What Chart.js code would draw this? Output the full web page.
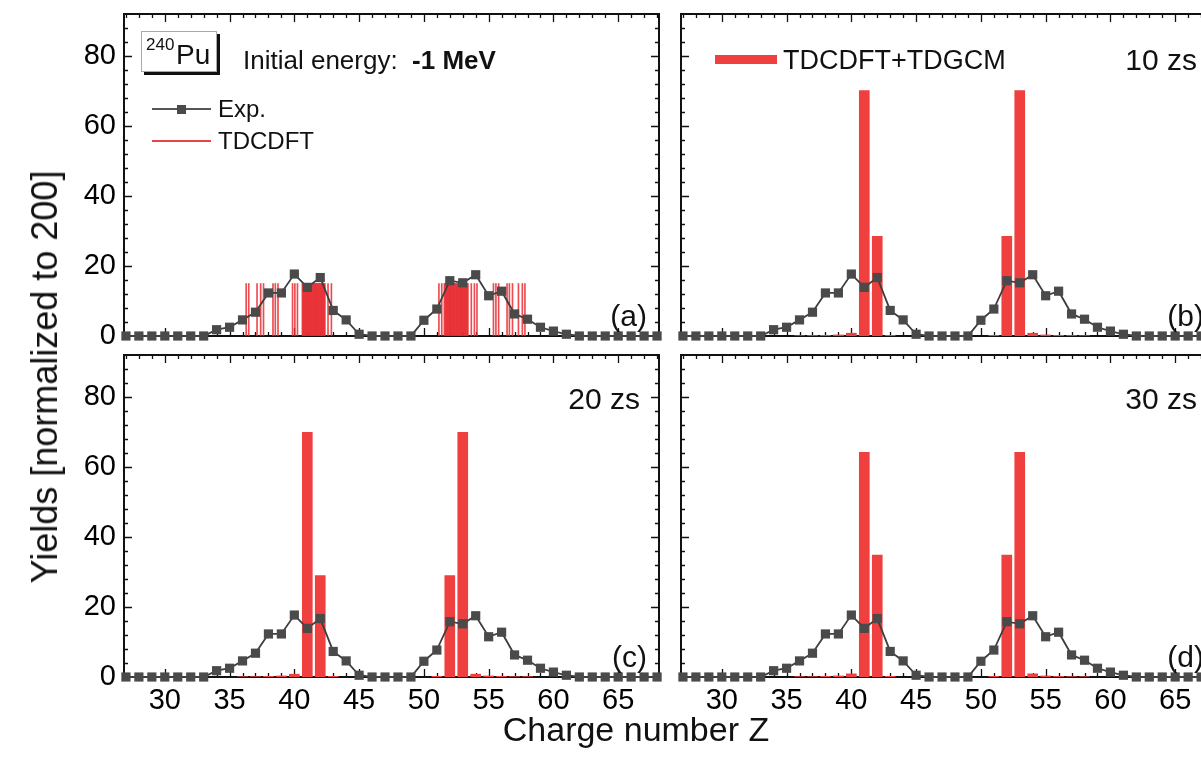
<!DOCTYPE html>
<html><head><meta charset="utf-8">
<script src="https://cdn.jsdelivr.net/npm/chart.js@4.4.0/dist/chart.umd.min.js"></script>
<style>
html,body{margin:0;padding:0;background:#fff;width:1201px;height:772px;overflow:hidden;}
body{position:relative;font-family:"Liberation Sans",Arial,sans-serif;color:#111;}
canvas{position:absolute;}
.t{position:absolute;white-space:nowrap;line-height:1;}
</style></head><body>
<canvas id="pa" width="680" height="346" style="left:0;top:0"></canvas>
<canvas id="pb" width="600" height="346" style="left:661px;top:0"></canvas>
<canvas id="pc" width="680" height="431" style="left:0;top:341px"></canvas>
<canvas id="pd" width="600" height="431" style="left:661px;top:341px"></canvas>

<div class="t" style="left:45px;top:377px;font-size:36px;transform:translate(-50%,-50%) rotate(-90deg);">Yields [normalized to 200]</div>
<div class="t" style="left:636px;top:729px;font-size:34px;transform:translate(-50%,-50%);">Charge number Z</div>

<div style="position:absolute;left:141px;top:31px;width:74px;height:39px;border:1px solid #aaa;background:#fff;box-shadow:3px 3px 0 #111;"></div>
<div class="t" style="left:146px;top:36px;font-size:17px;">240</div>
<div class="t" style="left:176px;top:41px;font-size:28px;">Pu</div>
<div class="t" style="left:243px;top:60px;font-size:26px;transform:translateY(-50%);">Initial energy: &nbsp;<b>-1 MeV</b></div>

<div style="position:absolute;left:152px;top:108px;width:59px;height:2px;background:#555;"></div>
<div style="position:absolute;left:177px;top:105px;width:9px;height:9px;background:#4a4a4a;"></div>
<div class="t" style="left:218px;top:109px;font-size:24px;transform:translateY(-50%);">Exp.</div>
<div style="position:absolute;left:152px;top:140px;width:59px;height:2px;background:#e8444a;"></div>
<div class="t" style="left:218px;top:141px;font-size:24px;transform:translateY(-50%);">TDCDFT</div>

<div style="position:absolute;left:715px;top:55px;width:62px;height:9px;background:#ef3f3f;"></div>
<div class="t" style="left:783px;top:60px;font-size:27px;transform:translateY(-50%);">TDCDFT+TDGCM</div>

<div class="t" style="left:1197px;top:60px;font-size:30px;transform:translate(-100%,-50%);">10 zs</div>
<div class="t" style="left:640px;top:399px;font-size:30px;transform:translate(-100%,-50%);">20 zs</div>
<div class="t" style="left:1197px;top:399px;font-size:30px;transform:translate(-100%,-50%);">30 zs</div>
<div class="t" style="left:647px;top:316px;font-size:30px;transform:translate(-100%,-50%);">(a)</div>
<div class="t" style="left:1204px;top:316px;font-size:30px;transform:translate(-100%,-50%);">(b)</div>
<div class="t" style="left:647px;top:657px;font-size:30px;transform:translate(-100%,-50%);">(c)</div>
<div class="t" style="left:1204px;top:657px;font-size:30px;transform:translate(-100%,-50%);">(d)</div>

<script>
// ---------- data ----------
const chargeZ = [27,28,29,30,31,32,33,34,35,36,37,38,39,40,41,42,43,44,45,46,47,48,49,50,51,52,53,54,55,56,57,58,59,60,61,62,63,64,65,66,67,68];
const expYield = [0,0,0,0,0,0,0, 1.8,2.5,4.6,6.8,12.3,12.3,17.7,13.9,16.7,7.3,4.6,0.5, 0,0,0,0, 4.5,7.7,15.8,15.2,17.5,11.5,12.8,6.3,4.8,2.5,1.4,0.5, 0,0,0,0,0,0,0];

const tdcdftZ = [36.28,36.48,37.12,37.40,37.62,38.35,38.53,38.74,39.86,40.04,40.24,
  40.62,40.68,40.74,40.80,40.86,40.92,40.98,41.04,41.10,41.16,41.22,41.28,41.34,41.40,41.46,
  41.52,41.58,41.64,41.70,41.76,41.82,41.88,41.94,42.00,42.06,42.12,42.18,42.24,42.30,42.36,
  42.60,42.86,
  51.16,51.38,51.58,
  51.66,51.72,51.78,51.84,51.90,51.96,52.02,52.08,52.14,52.20,52.26,52.32,52.38,52.44,52.50,
  52.56,52.62,52.68,52.74,52.80,52.86,52.92,52.98,53.04,53.10,53.16,53.22,53.28,53.34,53.40,
  53.66,53.90,54.10,55.37,55.56,55.77,56.42,56.60,56.84,57.30,57.60,57.80];
const tdcdftYield = [15,15,15,15,15,15,15,15,15,15,15,
  15,15,15,15,15,15,15,15,15,15,15,15,15,15,15,
  15,15,15,15,15,15,15,15,15,15,15,15,15,15,15,
  15,15,
  15,15,15,
  15,15,15,15,15,15,15,15,15,15,15,15,15,15,15,
  15,15,15,15,15,15,15,15,15,15,15,15,15,15,15,
  15,15,15,15,15,15,15,15,15,15,15,15];

const gcmZ   = [36,37,38,39,40,41,42,43,51,52,53,54,55,56,57,58];
const gcm10  = [0.1,0.15,0.2,0.3,0.8,70.1,28.5,0.2, 0.2,28.5,70.1,0.8,0.3,0.2,0.15,0.1];
const gcm20  = [0.1,0.1,0.2,0.3,0.8,69.9,29.0,0.2, 0.2,29.0,69.9,0.8,0.3,0.2,0.1,0.1];
const gcm30  = [0.1,0.1,0.2,0.3,0.9,64.2,34.8,0.2, 0.2,34.8,64.2,0.9,0.3,0.2,0.1,0.1];

const xTickLabels = [30,35,40,45,50,55,60,65];
const yTickLabels = [0,20,40,60,80];

// ---------- drawing ----------
const FONT = '"Liberation Sans", Arial, sans-serif';
const X_MIN = 26.85, X_MAX = 68.15, Y_MIN = 0, Y_MAX = 92;

const framePlugin = {
  id: 'frame',
  beforeDatasetsDraw(chart) {
    const {ctx, chartArea: a, scales: {x, y}} = chart;
    ctx.save();
    ctx.strokeStyle = '#111';
    ctx.lineWidth = 1.3;
    ctx.beginPath();
    for (let v = Math.ceil(X_MIN); v <= Math.floor(X_MAX); v++) {
      const px = Math.round(x.getPixelForValue(v)) + 0.5;
      const len = (v % 5 === 0) ? 8 : 4;
      ctx.moveTo(px, a.bottom); ctx.lineTo(px, a.bottom - len);
      ctx.moveTo(px, a.top); ctx.lineTo(px, a.top + len);
    }
    for (let v = 4; v < Y_MAX; v += 4) {
      const py = Math.round(y.getPixelForValue(v)) + 0.5;
      const len = (v % 20 === 0) ? 8 : 4;
      ctx.moveTo(a.left, py); ctx.lineTo(a.left + len, py);
      ctx.moveTo(a.right, py); ctx.lineTo(a.right - len, py);
    }
    ctx.stroke();
    ctx.lineWidth = 2;
    ctx.strokeRect(a.left, a.top, a.right - a.left, a.bottom - a.top);
    ctx.restore();
  }
};

function pairs(xs, ys) { return xs.map((v, i) => ({x: v, y: ys[i]})); }
function noPad(s) { s.paddingTop = 0; s.paddingBottom = 0; s.paddingLeft = 0; s.paddingRight = 0; }

function makePanel(id, cfg) {
  const datasets = [];
  datasets.push({
    type: 'line', label: 'Exp.', data: pairs(chargeZ, expYield), order: 0,
    borderColor: '#3d3d3d', borderWidth: 1.8, backgroundColor: '#4a4a4a',
    pointStyle: 'rect', pointRadius: 6.5, pointBorderWidth: 0, pointBackgroundColor: '#4a4a4a',
    clip: false, tension: 0
  });
  if (cfg.lines) {
    datasets.push({
      type: 'bar', label: 'TDCDFT', data: pairs(tdcdftZ, tdcdftYield), order: 1,
      backgroundColor: 'rgba(232,45,50,0.85)', barThickness: 1, borderWidth: 0
    });
  }
  if (cfg.bars) {
    datasets.push({
      type: 'bar', label: 'TDCDFT+TDGCM', data: pairs(gcmZ, cfg.bars), order: 1,
      backgroundColor: '#ef3f3f', barThickness: 10, borderWidth: 0
    });
  }
  new Chart(document.getElementById(id), {
    type: 'bar',
    data: {datasets},
    plugins: [framePlugin],
    options: {
      responsive: false, animation: false, devicePixelRatio: 1,
      layout: {padding: cfg.padding, autoPadding: false},
      plugins: {legend: {display: false}, tooltip: {enabled: false}},
      scales: {
        x: {
          type: 'linear', min: X_MIN, max: X_MAX, offset: false,
          grid: {display: false, drawTicks: false}, border: {display: false},
          ticks: {display: cfg.xLabels, autoSkip: false, color: '#000', padding: 7, maxRotation: 0,
                  font: {family: FONT, size: 29}},
          afterBuildTicks: s => { s.ticks = xTickLabels.map(v => ({value: v})); },
          afterFit: s => { s.height = cfg.xHeight; noPad(s); }
        },
        y: {
          type: 'linear', min: Y_MIN, max: Y_MAX,
          grid: {display: false, drawTicks: false}, border: {display: false},
          ticks: {display: cfg.yLabels, autoSkip: false, color: '#000', padding: 8,
                  font: {family: FONT, size: 29}},
          afterBuildTicks: s => { s.ticks = yTickLabels.map(v => ({value: v})); },
          afterFit: s => { s.width = cfg.yWidth; noPad(s); }
        }
      }
    }
  });
}

makePanel('pa', {lines: true, xLabels: false, yLabels: true, yWidth: 124, xHeight: 0,
  padding: {left: 0, top: 14, right: 21, bottom: 10}});
makePanel('pb', {bars: gcm10, xLabels: false, yLabels: false, yWidth: 20, xHeight: 0,
  padding: {left: 0, top: 14, right: 45, bottom: 10}});
makePanel('pc', {bars: gcm20, xLabels: true, yLabels: true, yWidth: 124, xHeight: 95,
  padding: {left: 0, top: 14, right: 21, bottom: 0}});
makePanel('pd', {bars: gcm30, xLabels: true, yLabels: false, yWidth: 20, xHeight: 95,
  padding: {left: 0, top: 14, right: 45, bottom: 0}});
</script>
</body></html>
